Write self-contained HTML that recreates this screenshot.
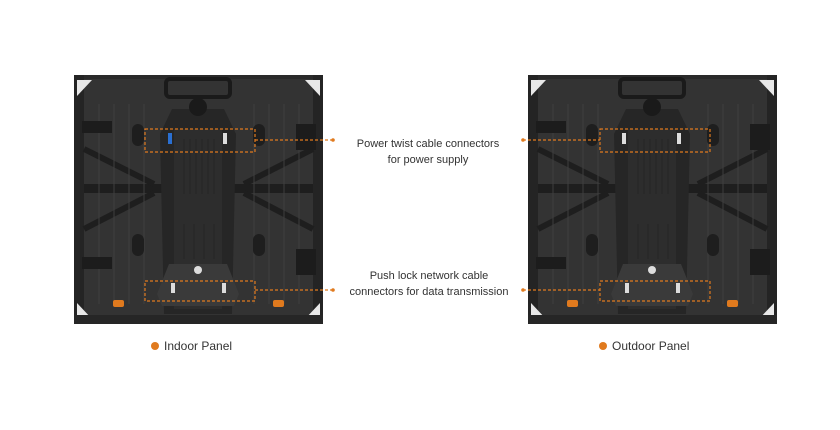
<!DOCTYPE html>
<html><head><meta charset="utf-8"><style>
body{margin:0;background:#fff;}
svg{display:block;font-family:"Liberation Sans",sans-serif;}
</style></head><body>
<svg width="840" height="430" viewBox="0 0 840 430" xmlns="http://www.w3.org/2000/svg">
<defs>
<g id="panel">
  <rect x="0" y="1" width="249" height="249" fill="#2a2a2a"/>
  <rect x="4" y="5" width="241" height="241" fill="#333"/>
  <!-- side frames -->
  <rect x="0" y="1" width="10" height="249" fill="#242424"/>
  <rect x="239" y="1" width="10" height="249" fill="#242424"/>
  <!-- horizontal bars -->
  <rect x="10" y="110" width="229" height="9" fill="#1e1e1e"/>
  <line x1="10" y1="75" x2="80" y2="110" stroke="#1e1e1e" stroke-width="6"/>
  <line x1="10" y1="155" x2="80" y2="119" stroke="#1e1e1e" stroke-width="6"/>
  <line x1="239" y1="75" x2="170" y2="110" stroke="#1e1e1e" stroke-width="6"/>
  <line x1="239" y1="155" x2="170" y2="119" stroke="#1e1e1e" stroke-width="6"/>
  <!-- grooves -->
  <g stroke="#3f3f3f" stroke-width="1">
    <line x1="25" y1="30" x2="25" y2="230"/><line x1="40" y1="30" x2="40" y2="230"/>
    <line x1="55" y1="30" x2="55" y2="230"/><line x1="70" y1="30" x2="70" y2="230"/>
    <line x1="180" y1="30" x2="180" y2="230"/><line x1="195" y1="30" x2="195" y2="230"/>
    <line x1="210" y1="30" x2="210" y2="230"/><line x1="225" y1="30" x2="225" y2="230"/>
  </g>
  <!-- central spine -->
  <path d="M98 35 L150 35 L162 60 L158 240 L90 240 L86 60 Z" fill="#262626"/>
  <rect x="100" y="55" width="48" height="180" fill="#2d2d2d"/>
  <g stroke="#252525" stroke-width="1">
    <line x1="110" y1="65" x2="110" y2="120"/><line x1="116" y1="65" x2="116" y2="120"/>
    <line x1="122" y1="65" x2="122" y2="120"/><line x1="128" y1="65" x2="128" y2="120"/>
    <line x1="134" y1="65" x2="134" y2="120"/><line x1="140" y1="65" x2="140" y2="120"/>
    <line x1="110" y1="150" x2="110" y2="185"/><line x1="120" y1="150" x2="120" y2="185"/>
    <line x1="130" y1="150" x2="130" y2="185"/><line x1="140" y1="150" x2="140" y2="185"/>
  </g>
  <path d="M95 190 L153 190 L165 220 L160 232 L88 232 L83 220 Z" fill="#3a3a3a"/>
  <circle cx="124" cy="196" r="4" fill="#ddd"/>
  <!-- top handle -->
  <rect x="92" y="5" width="64" height="18" rx="4" fill="none" stroke="#1a1a1a" stroke-width="4"/>
  <circle cx="124" cy="33" r="9" fill="#1a1a1a"/>
  <!-- oval pads -->
  <rect x="58" y="50" width="12" height="22" rx="6" fill="#1e1e1e"/>
  <rect x="179" y="50" width="12" height="22" rx="6" fill="#1e1e1e"/>
  <rect x="58" y="160" width="12" height="22" rx="6" fill="#1e1e1e"/>
  <rect x="179" y="160" width="12" height="22" rx="6" fill="#1e1e1e"/>
  <!-- side connectors -->
  <rect x="222" y="50" width="20" height="26" fill="#1c1c1c"/>
  <rect x="222" y="175" width="20" height="26" fill="#1c1c1c"/>
  <rect x="8" y="47" width="30" height="12" fill="#1c1c1c"/>
  <rect x="8" y="183" width="30" height="12" fill="#1c1c1c"/>
  <!-- corner brackets -->
  <path d="M3 6 L18 6 L3 22 Z" fill="#e8e8e8"/>
  <path d="M246 6 L231 6 L246 22 Z" fill="#e8e8e8"/>
  <path d="M3 245 L18 245 L3 229 Z" fill="#e8e8e8"/>
  <path d="M246 245 L231 245 L246 229 Z" fill="#e8e8e8"/>
  <!-- orange feet -->
  <rect x="39" y="226" width="11" height="7" rx="2" fill="#e07a1e"/>
  <rect x="199" y="226" width="11" height="7" rx="2" fill="#e07a1e"/>
  <rect x="0" y="241" width="249" height="9" fill="#262626"/>
</g>
</defs>
<use href="#panel" x="74" y="74"/>
<use href="#panel" x="528" y="74"/>
<!-- blue/white connectors indoor -->
<rect x="168" y="133" width="4" height="11" fill="#2a6fd1"/>
<rect x="223" y="133" width="4" height="11" fill="#ddd"/>
<rect x="622" y="133" width="4" height="11" fill="#ddd"/>
<rect x="677" y="133" width="4" height="11" fill="#ddd"/>
<rect x="171" y="283" width="4" height="10" fill="#ddd"/>
<rect x="222" y="283" width="4" height="10" fill="#ddd"/>
<rect x="625" y="283" width="4" height="10" fill="#ddd"/>
<rect x="676" y="283" width="4" height="10" fill="#ddd"/>
<!-- dashed boxes and leaders -->
<g fill="none" stroke="#e07a1e" stroke-width="1.2" stroke-dasharray="3,2">
  <rect x="145" y="129" width="110" height="23"/>
  <rect x="145" y="281" width="110" height="20"/>
  <rect x="600" y="129" width="110" height="23"/>
  <rect x="600" y="281" width="110" height="20"/>
  <polyline points="255,140 333,140"/>
  <polyline points="255,290 333,290"/>
  <polyline points="523,140 600,140"/>
  <polyline points="523,290 600,290"/>
</g>
<g fill="#e07a1e">
  <circle cx="333" cy="140" r="1.8"/><circle cx="333" cy="290" r="1.8"/>
  <circle cx="523" cy="140" r="1.8"/><circle cx="523" cy="290" r="1.8"/>
  <circle cx="155" cy="346" r="4"/><circle cx="603" cy="346" r="4"/>
</g>
<g font-size="11" fill="#333" text-anchor="middle">
  <text x="428" y="147">Power twist cable connectors</text>
  <text x="428" y="163">for power supply</text>
  <text x="429" y="279">Push lock network cable</text>
  <text x="429" y="295">connectors for data transmission</text>
</g>
<g font-size="12" fill="#333">
  <text x="164" y="350">Indoor Panel</text>
  <text x="612" y="350">Outdoor Panel</text>
</g>
</svg>
</body></html>
